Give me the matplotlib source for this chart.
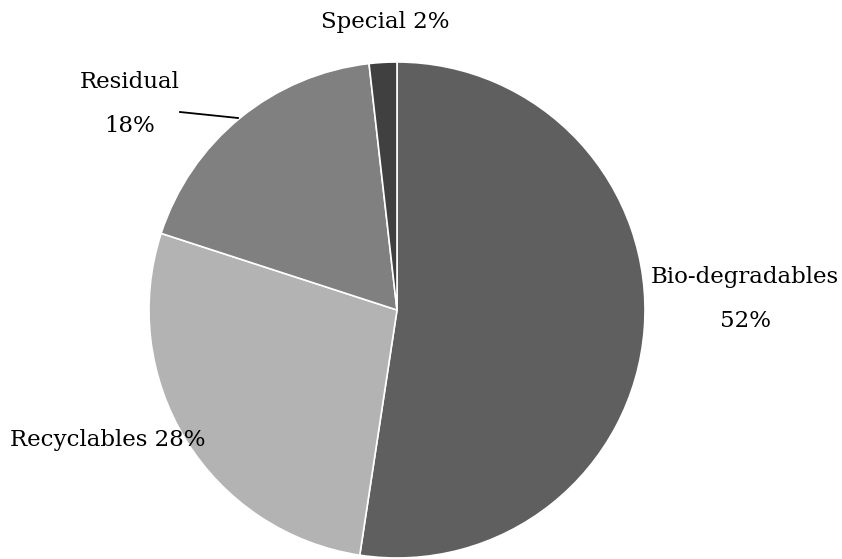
import matplotlib.pyplot as plt

labels = ["Bio-degradables\n52%", "Recyclables 28%", "Residual\n18%", "Special 2%"]
shares = [52.4, 27.6, 18.2, 1.8]
colors = ["#5f5f5f", "#b3b3b3", "#808080", "#404040"]

plt.rcParams['font.family'] = ['DejaVu Serif']

fig = plt.figure(figsize=(8.42, 5.59), dpi=100)
cx, cy, r = 397, 310, 248
ax = fig.add_axes([(cx - r) / 842, (559 - cy - r) / 559, 2 * r / 842, 2 * r / 559])

ax.pie(shares, colors=colors, startangle=90, counterclock=False, radius=1,
       wedgeprops=dict(edgecolor="white", linewidth=1.2))
ax.set_xlim(-1, 1)
ax.set_ylim(-1, 1)
ax.set_aspect('equal')
ax.axis('off')

def px(x, y):
    return ((x - cx) / r, (cy - y) / r)

label_pos = [px(745, 299), px(108, 440), px(130, 104), px(385, 22)]
for lab, (x, y) in zip(labels, label_pos):
    ax.text(x, y, lab, ha='center', va='center', fontsize=16.5,
            linespacing=2.3, clip_on=False)

x0, y0 = px(180, 112)
x1, y1 = px(238, 118)
ax.plot([x0, x1], [y0, y1], color='black', lw=1.3, clip_on=False)

fig.savefig("out.png", dpi=100)
